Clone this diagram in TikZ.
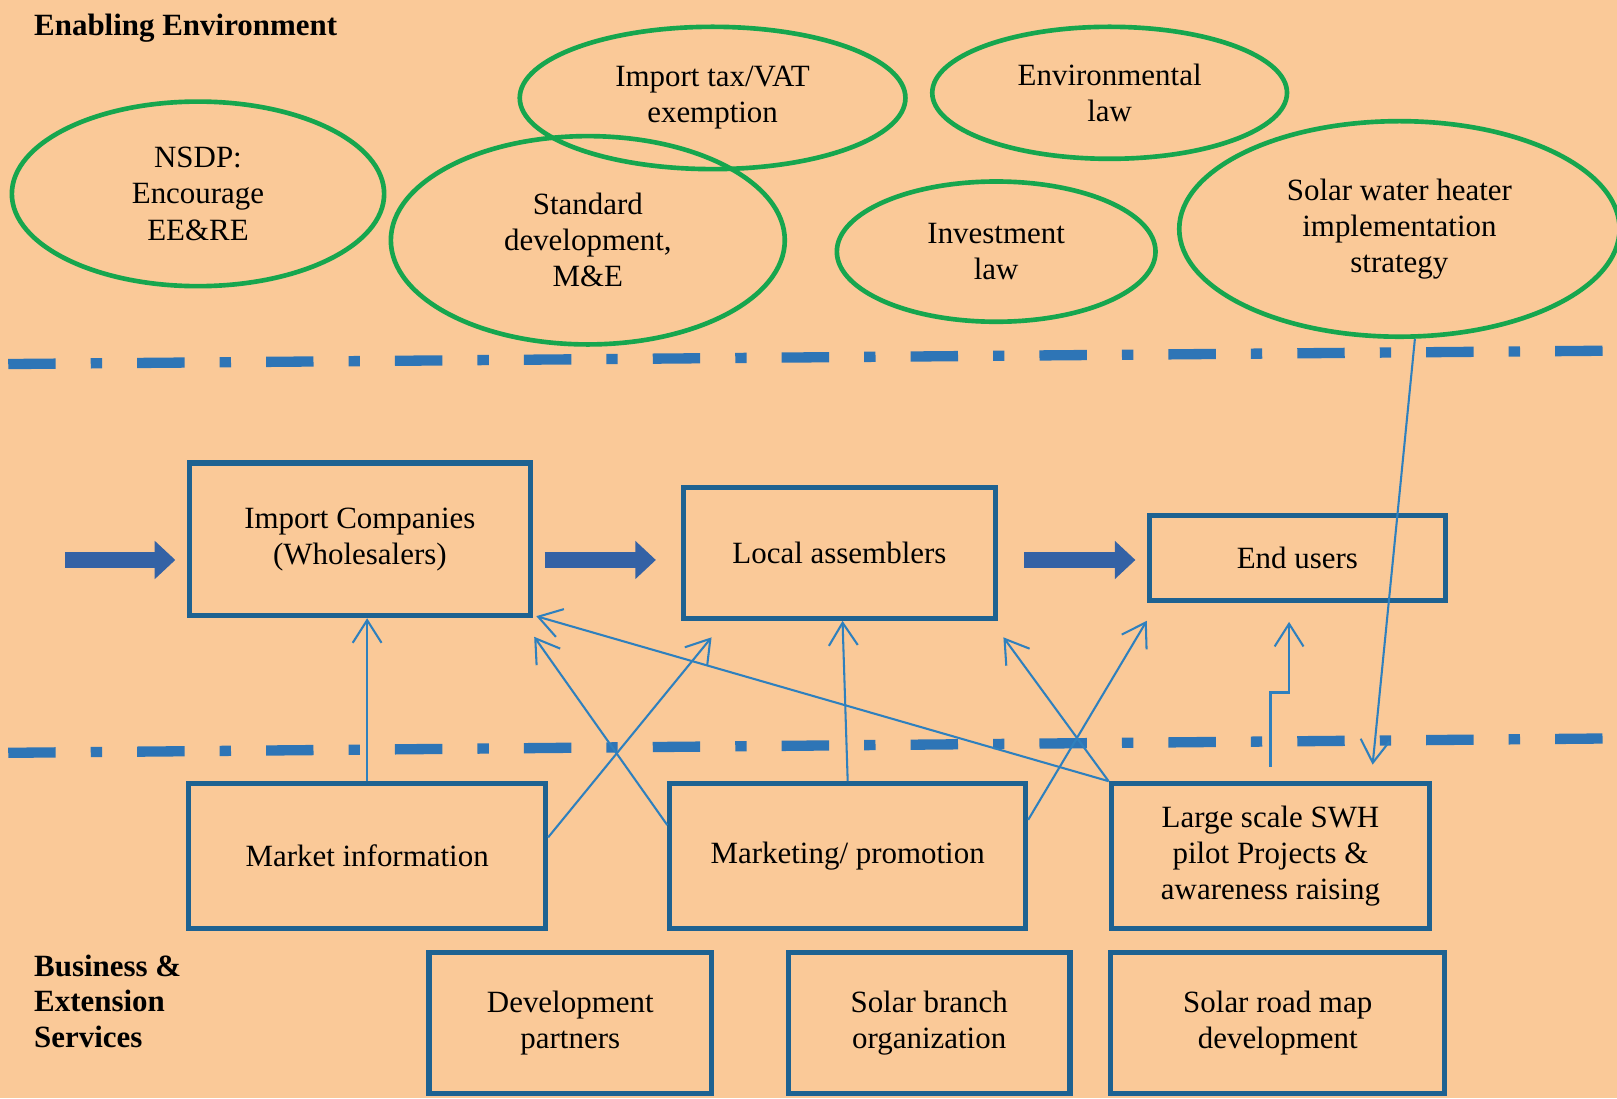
\documentclass[tikz,border=0pt]{standalone}
\usepackage{fontspec}
\setmainfont{Liberation Serif}
\usepackage{tikz}
\usetikzlibrary{arrows.meta}
\usetikzlibrary{calc,positioning}
\usetikzlibrary{shapes.geometric}

\definecolor{peach}{RGB}{250,201,152}
\definecolor{policygreen}{RGB}{22,166,78}
\definecolor{boxblue}{RGB}{30,98,145}
\definecolor{linkblue}{RGB}{46,128,190}
\definecolor{arrowblue}{RGB}{52,98,165}
\definecolor{dashblue}{RGB}{46,117,182}

\begin{document}
\begin{tikzpicture}[x=1pt, y=-1pt,
			policy/.style={ellipse, draw=policygreen, line width=4.5pt, inner sep=0pt,
					align=center, text=black, font=\fontsize{30}{35}\selectfont},
			actor/.style={rectangle, draw=boxblue, line width=5pt, inner sep=0pt,
					align=center, text=black, font=\fontsize{30}{35}\selectfont},
			heading/.style={anchor=west, inner sep=0pt, font=\fontsize{30}{34}\selectfont\bfseries},
			flow/.style={draw=linkblue, line width=2pt, -{Straight Barb[length=22pt,width=28pt]}},
			bigflow/.style={draw=arrowblue, line width=16pt, -{Triangle[length=20pt,width=36pt]}},
			divider/.style={draw=dashblue, line width=10pt, dash pattern=on 46pt off 34pt on 11pt off 34pt},]
		\useasboundingbox (0,0) rectangle (1568,1065);
		\fill [peach] (0,0) rectangle (1568,1065);

		\node (enabling) [heading] at (33,27) {Enabling Environment};
		\node (business) [heading, align=left] at (33,971) {Business \&\\Extension\\Services};

		\node (nsdp) [policy, minimum width=361pt, minimum height=179pt] at (192,188) {NSDP:\\Encourage\\EE\&RE};
		\node (stddev) [policy, minimum width=382pt, minimum height=202pt] at (570,233) {Standard\\development,\\M\&E};
		\node (imptax) [policy, minimum width=374pt, minimum height=138pt] at (691,95) {Import tax/VAT\\exemption};
		\node (envlaw) [policy, minimum width=344pt, minimum height=128pt] at (1076,90) {Environmental\\law};
		\node (invlaw) [policy, minimum width=309pt, minimum height=136pt] at (966,244) {Investment\\law};
		\node (swhstrat) [policy, minimum width=427pt, minimum height=209pt] at (1357,222) {Solar water heater\\implementation\\strategy};

		\draw [divider] (8,353) -- (1568,340);
		\draw [divider] (8,730) -- (1568,716);

		\node (impco) [actor, minimum width=331pt, minimum height=148pt] at (349,523) {Import Companies\\(Wholesalers)};
		\node (locasm) [actor, minimum width=303pt, minimum height=127pt] at (814,536) {Local assemblers};
		\node (endusr) [actor, minimum width=287pt, minimum height=83pt] at (1258,541) {End users};

		\node (mktinfo) [actor, minimum width=346pt, minimum height=140pt] at (356,830) {Market information};
		\node (mktprom) [actor, minimum width=345pt, minimum height=140pt] at (822,830) {Marketing/ promotion};
		\node (pilot) [actor, minimum width=309pt, minimum height=140pt] at (1232,830) {Large scale SWH\\pilot Projects \&\\awareness raising};

		\node (devpart) [actor, minimum width=274pt, minimum height=136pt] at (553,992) {Development\\partners};
		\node (solbranch) [actor, minimum width=273pt, minimum height=136pt] at (901,992) {Solar branch\\organization};
		\node (roadmap) [actor, minimum width=324pt, minimum height=136pt] at (1239,992) {Solar road map\\development};

		\coordinate (inflow) at (63,543);
		\draw [bigflow, shorten >=11pt] (inflow) -- (inflow -| impco.west);
		\draw [bigflow, shorten <=11pt, shorten >=24pt] (inflow -| impco.east) -- (inflow -| locasm.west);
		\draw [bigflow, shorten <=25pt, shorten >=11pt] (inflow -| locasm.east) -- (inflow -| endusr.west);

		\draw [flow] (mktinfo.north) -- (mktinfo.north |- impco.south);
		\draw [flow] ([yshift=18pt]mktinfo.east) -- ([xshift=30pt,yshift=-16pt]locasm.south west);
		\draw [flow] ([yshift=30pt]mktprom.west) -- ([xshift=1pt,yshift=-18pt]impco.south east);
		\draw [flow] (mktprom.north) -- ([xshift=3pt]locasm.south);
		\draw [flow] ([yshift=35pt]mktprom.east) -- ([yshift=-17pt]endusr.south west);
		\draw [flow] (pilot.north west) -- ([xshift=3pt,yshift=2pt]impco.south east);
		\draw [flow] (pilot.north west) -- ([xshift=5pt,yshift=-16pt]locasm.south east);
		\draw [flow] ([yshift=14pt]pilot.north) -- ++(0,-72) -| ([xshift=-8pt,yshift=-18pt]endusr.south);
		\draw [flow] ([xshift=15pt]swhstrat.south) -- ([xshift=99pt,yshift=16pt]pilot.north);
	\end{tikzpicture}
\end{document}
